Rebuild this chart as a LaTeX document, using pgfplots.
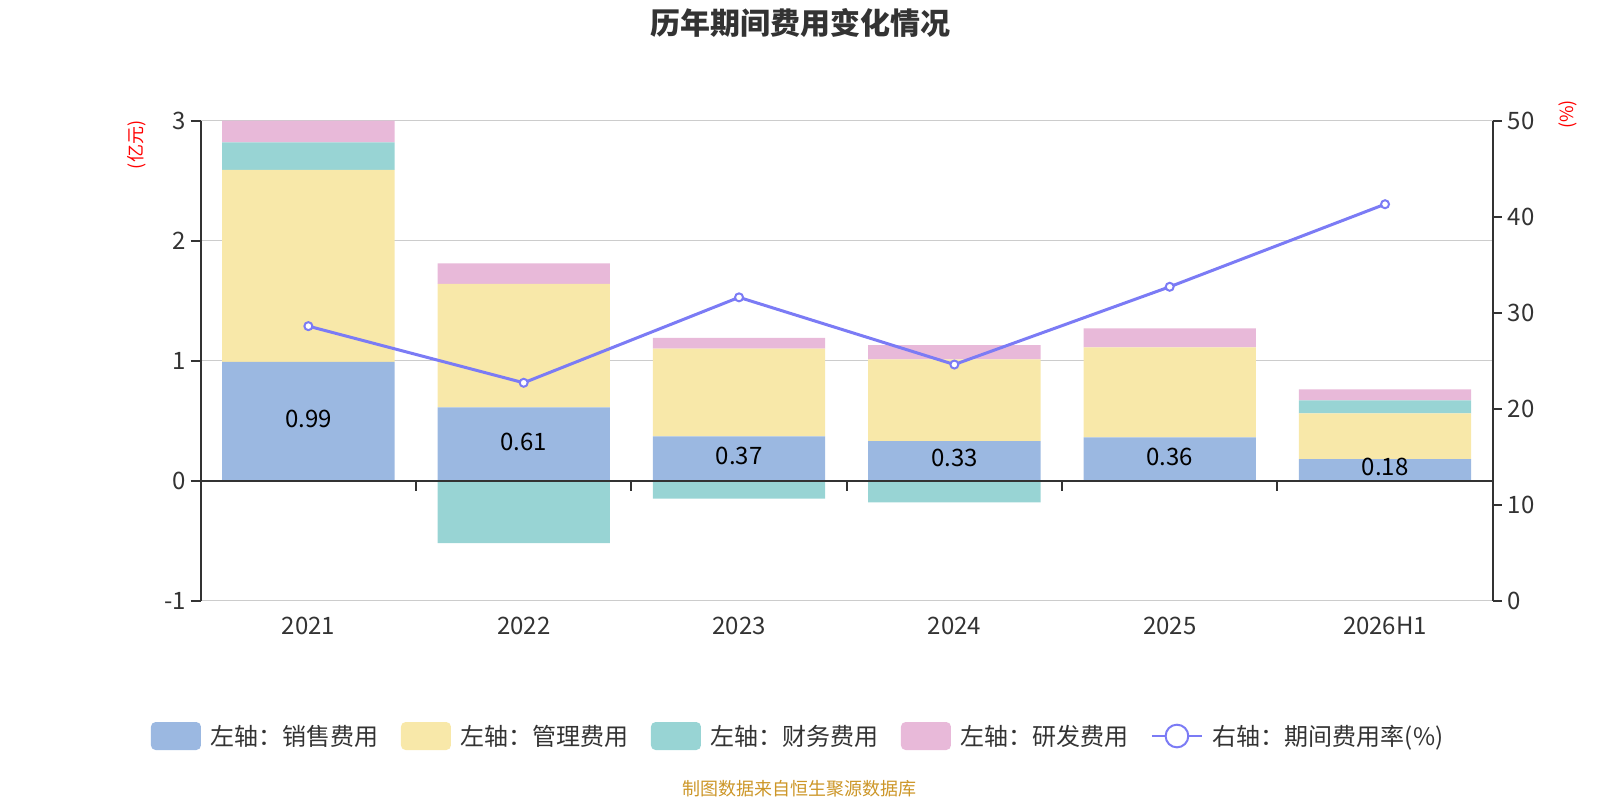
\documentclass[border=0pt]{standalone}
\usepackage{fontspec}
\setmainfont{Noto Sans CJK SC}
\setsansfont{Noto Sans CJK SC}
\usepackage{pgfplots}
\pgfplotsset{compat=1.18}
\definecolor{cSales}{RGB}{155,184,225}
\definecolor{cMgmt}{RGB}{248,232,169}
\definecolor{cFin}{RGB}{152,212,212}
\definecolor{cRD}{RGB}{232,185,217}
\definecolor{cLine}{RGB}{123,123,245}
\definecolor{cText}{RGB}{51,51,51}
\definecolor{cAxis}{RGB}{51,51,51}
\definecolor{cGrid}{RGB}{204,204,204}
\definecolor{cWater}{RGB}{204,150,40}
\pgfplotsset{
  base/.style={scale only axis, width=969pt, height=360pt,
    at={(150.525pt,149.475pt)}, anchor=south west,
    xmin=-0.5, xmax=5.5, clip=false,
    /pgf/number format/assume math mode=true,
    tick label style={font=\fontsize{18}{18}\selectfont, text=cText}},
  boxlegend/.style={legend image code/.code={\fill[##1, rounded corners=3.5pt] (0pt,-10.5pt) rectangle (37.5pt,10.5pt);}},
}
\begin{document}
\begin{tikzpicture}[x=0.75pt,y=0.75pt]
\path[use as bounding box] (0,0) rectangle (1600,800);

% left axis: positive stacked bars
\begin{axis}[base, ymin=-1, ymax=3, ytick={-1,0,1,2,3},
  ymajorgrids, grid style={cGrid, line width=0.9pt},
  axis y line*=left, axis x line*=bottom,
  x axis line style={draw=none}, y axis line style={cAxis, line width=1.5pt},
  xtick={0,...,5}, xticklabels={2021,2022,2023,2024,2025,2026H1},
  xtick style={draw=none}, ytick style={cAxis, line width=1.5pt},
  tick align=outside, major tick length=7.5pt,
  xticklabel style={anchor=base, yshift=-17.5pt},
  yticklabel style={anchor=east, inner sep=0pt, xshift=-3.5pt},
  ybar stacked, bar width=0.8,
  legend columns=5,
  legend style={at={(-0.0385,-0.2819)}, anchor=west, draw=none, fill=none,
    inner sep=0pt, outer sep=0pt, nodes={inner sep=0pt},
    font=\fontsize{18}{18}\selectfont, text=cText,
    /tikz/every odd column/.append style={column sep=7.5pt},
    /tikz/every even column/.append style={column sep=16.5pt}},
]
\addplot[fill=cSales, draw=none, boxlegend] coordinates {(0,0.99) (1,0.61) (2,0.37) (3,0.33) (4,0.36) (5,0.18)};
\addlegendentry{左轴：销售费用}
\addplot[fill=cMgmt, draw=none, boxlegend] coordinates {(0,1.60) (1,1.03) (2,0.73) (3,0.68) (4,0.75) (5,0.38)};
\addlegendentry{左轴：管理费用}
\addplot[fill=cFin, draw=none, boxlegend] coordinates {(0,0.23) (1,0) (2,0) (3,0) (4,0) (5,0.11)};
\addlegendentry{左轴：财务费用}
\addplot[fill=cRD, draw=none, boxlegend] coordinates {(0,0.18) (1,0.17) (2,0.09) (3,0.12) (4,0.16) (5,0.09)};
\addlegendentry{左轴：研发费用}
\addlegendimage{legend image code/.code={\draw[cLine, line width=1.5pt] (0pt,0pt) -- (37.5pt,0pt); \draw[cLine, line width=1.5pt, fill=white] (18.75pt,0pt) circle (8.5pt);}}
\addlegendentry{右轴：期间费用率(\%)}
\end{axis}

% left axis overlay: negative finance bars, value labels, zero line
\begin{axis}[base, ymin=-1, ymax=3, hide axis]
\addplot[ybar, bar width=0.8, fill=cFin, draw=none] coordinates {(1,-0.52) (2,-0.15) (3,-0.18) (4,-0.006)};
\addplot[only marks, mark=*, mark size=0pt, mark options={draw=none, fill=none},
  nodes near coords, point meta=explicit symbolic,
  nodes near coords style={anchor=center, font=\fontsize{18}{18}\selectfont, text=black}]
  coordinates {(0,0.517)[0.99] (1,0.327)[0.61] (2,0.207)[0.37] (3,0.187)[0.33] (4,0.202)[0.36] (5,0.112)[0.18]};
\draw[cAxis, line width=1.5pt] (axis cs:-0.5,0) -- (axis cs:5.5,0);
\pgfplotsinvokeforeach{0.5,1.5,2.5,3.5,4.5}{\draw[cAxis, line width=1.5pt] (axis cs:#1,0) -- ++(0pt,-7.5pt);}
\end{axis}

% right axis: rate line
\begin{axis}[base, ymin=0, ymax=50, ytick={0,10,20,30,40,50},
  axis y line*=right, axis x line=none, xtick=\empty,
  y axis line style={cAxis, line width=1.5pt}, ytick style={cAxis, line width=1.5pt},
  tick align=outside, major tick length=6.75pt,
  yticklabel style={anchor=west, inner sep=0pt, xshift=4.5pt}]
\addplot[cLine, line width=2.25pt, mark=*, mark size=3pt,
  mark options={fill=white, draw=cLine, line width=1.5pt}]
  coordinates {(0,28.6) (1,22.7) (2,31.6) (3,24.6) (4,32.7) (5,41.3)};
\end{axis}

\node[font=\fontsize{22.5}{22.5}\selectfont\bfseries, text=cText] at (800,777) {历年期间费用变化情况};
\node[rotate=90, text=red, font=\fontsize{13.5}{13.5}\selectfont] at (137,655) {(亿元)};
\node[rotate=90, text=red, font=\fontsize{13.5}{13.5}\selectfont] at (1568,685.5) {(\%)};
\node[text=cWater, font=\fontsize{13.5}{13.5}\selectfont] at (799,11) {制图数据来自恒生聚源数据库};
\end{tikzpicture}
\end{document}
